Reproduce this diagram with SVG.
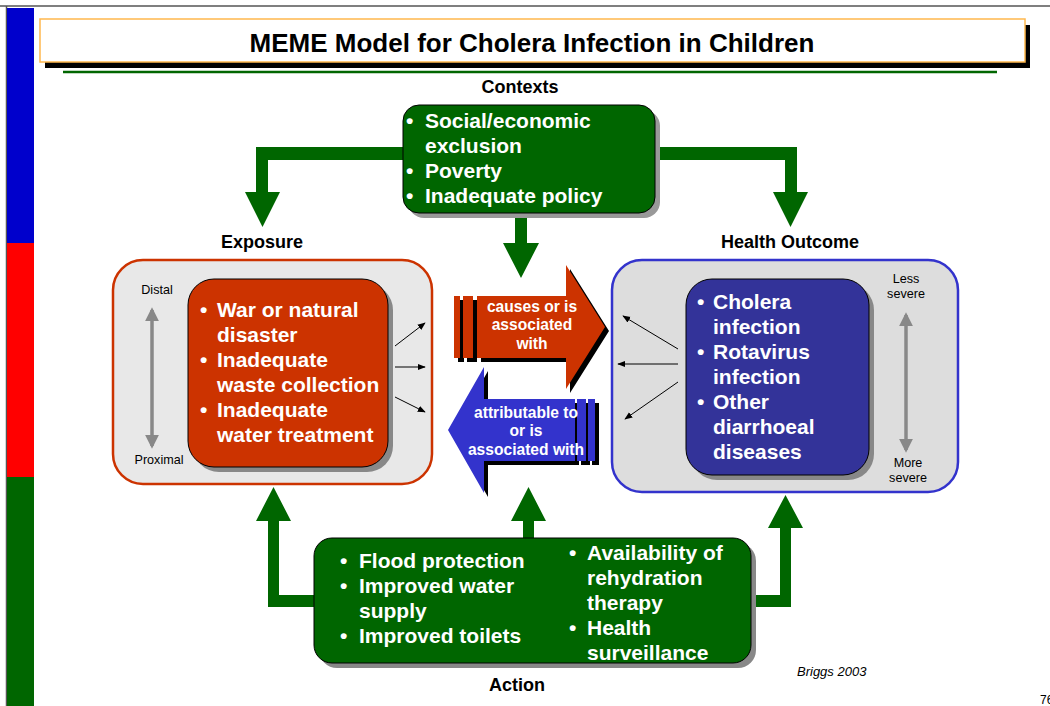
<svg xmlns="http://www.w3.org/2000/svg" width="1050" height="706" viewBox="0 0 1050 706">
<defs>
<style>
text{font-family:"Liberation Sans",Arial,sans-serif}
.b{font-weight:bold}
.w{fill:#fff;font-weight:bold;font-size:21px}
.aw{fill:#fff;font-weight:bold;font-size:15.6px;text-anchor:middle}
.lbl{font-weight:bold;font-size:18px;text-anchor:middle;fill:#000}
.sm{font-size:12.6px;fill:#000;text-anchor:middle}
.grn{fill:#006600}
.thin{stroke:#000;stroke-width:1;fill:none;marker-end:url(#ah)}
.gray{stroke:#888;stroke-width:3.5;fill:none;marker-start:url(#gh);marker-end:url(#gh)}
</style>
<marker id="ah" viewBox="0 0 10 10" refX="9" refY="5" markerWidth="8" markerHeight="8" markerUnits="userSpaceOnUse" orient="auto"><path d="M0,1 L10,5 L0,9 z" fill="#000"/></marker>
<marker id="gh" viewBox="0 0 10 10" refX="8" refY="5" markerWidth="4" markerHeight="4" orient="auto-start-reverse"><path d="M0,0 L10,5 L0,10 z" fill="#888"/></marker>
</defs>
<rect width="1050" height="706" fill="#fff"/>
<line x1="0" y1="6" x2="1050" y2="6" stroke="#555" stroke-width="1.5"/>
<line x1="6.5" y1="6" x2="6.5" y2="706" stroke="#555" stroke-width="1.5"/>
<rect x="7" y="8" width="27" height="235" fill="#0000CC"/>
<rect x="7" y="243" width="27" height="234" fill="#FF0000"/>
<rect x="7" y="477" width="27" height="229" fill="#006600"/>

<g id="title">
<rect x="45" y="25" width="985" height="43" fill="#000"/>
<rect x="40" y="19" width="985" height="43" fill="#fff" stroke="#FFB84D" stroke-width="1.5"/>
<text x="532" y="52" class="b" font-size="26" text-anchor="middle">MEME Model for Cholera Infection in Children</text>
</g>
<line x1="63" y1="72" x2="997" y2="72" stroke="#006600" stroke-width="2.5"/>

<g id="connectors">
<polygon class="grn" points="410,147 256,147 256,192 245,192 262.5,227 280,192 268,192 268,160 410,160"/>
<polygon class="grn" points="650,147 797,147 797,192 808,192 790.5,227 773,192 785,192 785,160 650,160"/>
<polygon class="grn" points="515,205 527,205 527,243 539,243 521,278 503,243 515,243"/>
<polygon class="grn" points="320,607 268,607 268,521 256,521 273.5,487 291,521 279,521 279,595 320,595"/>
<polygon class="grn" points="523,545 523,521 511,521 528.5,487 546,521 534,521 534,545"/>
<polygon class="grn" points="745,607 791,607 791,528 803,528 785.5,495 768,528 780,528 780,595 745,595"/>
</g>

<g id="contexts">
<text x="520" y="93" class="lbl">Contexts</text>
<rect x="408" y="110" width="252" height="108" rx="16" fill="#999"/>
<rect x="403" y="105" width="252" height="108" rx="16" fill="#006600" stroke="#000" stroke-width="1"/>
<text class="w"><tspan x="406" y="128">•</tspan><tspan x="425" y="128">Social/economic</tspan><tspan x="425" y="153">exclusion</tspan><tspan x="406" y="178">•</tspan><tspan x="425" y="178">Poverty</tspan><tspan x="406" y="203">•</tspan><tspan x="425" y="203">Inadequate policy</tspan></text>
</g>

<g id="exposure">
<text x="262" y="248" class="lbl">Exposure</text>
<rect x="113" y="260" width="319" height="224" rx="30" fill="#E8E8E8" stroke="#CC3300" stroke-width="2.5"/>
<rect x="193" y="284" width="200" height="188" rx="26" fill="#888"/>
<rect x="188" y="279" width="200" height="188" rx="26" fill="#CC3300" stroke="#000" stroke-width="1"/>
<text class="w"><tspan x="200" y="317">•</tspan><tspan x="217" y="317">War or natural</tspan><tspan x="217" y="342">disaster</tspan><tspan x="200" y="367">•</tspan><tspan x="217" y="367">Inadequate</tspan><tspan x="217" y="392">waste collection</tspan><tspan x="200" y="417">•</tspan><tspan x="217" y="417">Inadequate</tspan><tspan x="217" y="442">water treatment</tspan></text>
<text x="157" y="294" class="sm">Distal</text>
<text x="159" y="464" class="sm">Proximal</text>
<line x1="152" y1="310" x2="152" y2="446" class="gray"/>
<line x1="395" y1="346" x2="425" y2="323" class="thin"/>
<line x1="395" y1="367" x2="425" y2="367" class="thin"/>
<line x1="395" y1="397" x2="425" y2="412" class="thin"/>
</g>

<g id="causes">
<g fill="#000" transform="translate(4,4)">
<rect x="454" y="296" width="6" height="62"/><rect x="463" y="296" width="10" height="62"/>
<polygon points="477,296 566,296 566,265 605,327 566,389 566,358 477,358"/>
</g>
<g fill="#CC3300">
<rect x="454" y="296" width="6" height="62"/><rect x="463" y="296" width="10" height="62"/>
<polygon points="477,296 566,296 566,265 605,327 566,389 566,358 477,358"/>
</g>
<text class="aw"><tspan x="532" y="312">causes or is</tspan><tspan x="532" y="330">associated</tspan><tspan x="532" y="349">with</tspan></text>
</g>

<g id="attributable">
<g fill="#000" transform="translate(4,4)">
<rect x="588" y="399" width="7" height="62"/><rect x="577" y="399" width="9" height="62"/>
<polygon points="575,399 484,399 484,367 448,430 484,493 484,461 575,461"/>
</g>
<g fill="#3333CC">
<rect x="588" y="399" width="7" height="62"/><rect x="577" y="399" width="9" height="62"/>
<polygon points="575,399 484,399 484,367 448,430 484,493 484,461 575,461"/>
</g>
<text class="aw"><tspan x="526" y="418">attributable to</tspan><tspan x="526" y="436">or is</tspan><tspan x="526" y="455">associated with</tspan></text>
</g>

<g id="outcome">
<text x="790" y="248" class="lbl">Health Outcome</text>
<rect x="612" y="260" width="346" height="232" rx="30" fill="#DDDDDD" stroke="#3333CC" stroke-width="2.5"/>
<rect x="691" y="284" width="183" height="196" rx="26" fill="#888"/>
<rect x="686" y="279" width="183" height="196" rx="26" fill="#333399" stroke="#000" stroke-width="1"/>
<text class="w"><tspan x="697" y="309">•</tspan><tspan x="713" y="309">Cholera</tspan><tspan x="713" y="334">infection</tspan><tspan x="697" y="359">•</tspan><tspan x="713" y="359">Rotavirus</tspan><tspan x="713" y="384">infection</tspan><tspan x="697" y="409">•</tspan><tspan x="713" y="409">Other</tspan><tspan x="713" y="434">diarrhoeal</tspan><tspan x="713" y="459">diseases</tspan></text>
<text class="sm"><tspan x="906" y="283">Less</tspan><tspan x="906" y="298">severe</tspan><tspan x="908" y="467">More</tspan><tspan x="908" y="482">severe</tspan></text>
<line x1="906" y1="315" x2="906" y2="450" class="gray"/>
<line x1="678" y1="349" x2="623" y2="316" class="thin"/>
<line x1="678" y1="364" x2="618" y2="364" class="thin"/>
<line x1="678" y1="382" x2="625" y2="419" class="thin"/>
</g>

<g id="action">
<rect x="319" y="543" width="437" height="125" rx="18" fill="#888"/>
<rect x="314" y="538" width="437" height="125" rx="18" fill="#006600" stroke="#000" stroke-width="1"/>
<text class="w"><tspan x="340" y="568">•</tspan><tspan x="359" y="568">Flood protection</tspan><tspan x="340" y="593">•</tspan><tspan x="359" y="593">Improved water</tspan><tspan x="359" y="618">supply</tspan><tspan x="340" y="643">•</tspan><tspan x="359" y="643">Improved toilets</tspan><tspan x="569" y="560">•</tspan><tspan x="587" y="560">Availability of</tspan><tspan x="587" y="585">rehydration</tspan><tspan x="587" y="610">therapy</tspan><tspan x="569" y="635">•</tspan><tspan x="587" y="635">Health</tspan><tspan x="587" y="660">surveillance</tspan></text>
<text x="517" y="691" class="lbl">Action</text>
</g>
<text x="797" y="676" font-size="13" font-style="italic">Briggs 2003</text>
<text x="1040" y="704" font-size="12">76</text>
</svg>
